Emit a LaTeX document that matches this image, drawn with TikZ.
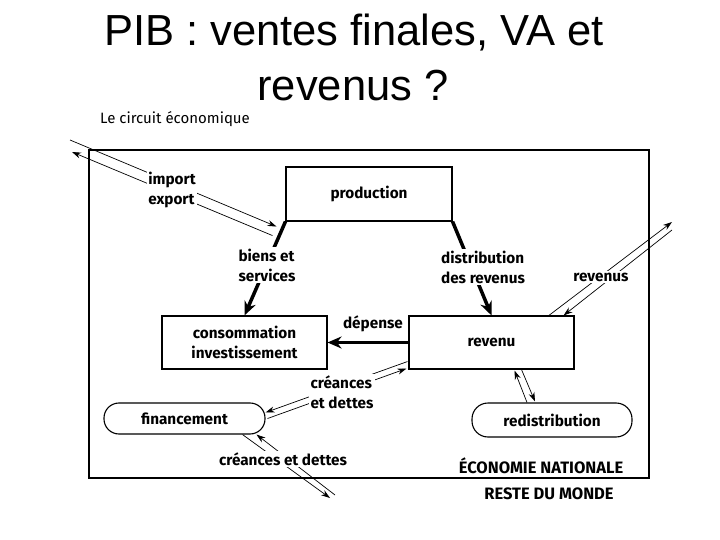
\documentclass[tikz,border=0pt]{standalone}
\usepackage{fontspec}
\setmainfont{Liberation Sans}
\newfontfamily\circfont{Fira Sans}
\usetikzlibrary{arrows.meta,calc}

\begin{document}
\begin{tikzpicture}[x=1pt, y=-1pt,
            box/.style={draw, line width=1.1pt, inner sep=0pt, font=\circfont\bfseries\fontsize{15.3}{20}\selectfont, align=center},
            lbl/.style={font=\circfont\bfseries\fontsize{15.3}{20}\selectfont, fill=white, inner sep=1.5pt},
            thinarr/.style={line width=0.7pt, -{Stealth[length=9pt,width=6pt]}},
            fatarr/.style={line width=3.5pt, -{Stealth[length=14pt,width=12pt]}}]
            \useasboundingbox (0,0) rectangle (720,540);
            % titre
            \node[font=\fontsize{43.5}{50}\selectfont, anchor=base] (titre1) at (354,46) {PIB : ventes finales, VA et};
            \node[font=\fontsize{43.5}{50}\selectfont, anchor=base] (titre2) at (353,101) {revenus ?};
            \node[font=\circfont\fontsize{15}{18}\selectfont, anchor=base west, inner sep=0pt] (soustitre) at (100,124) {Le circuit économique};
            % economie nationale
            \draw[line width=2.6pt] (89,150) rectangle (649,478);
            \node[box, minimum width=166pt, minimum height=54pt] (prod) at (369,194) {production};
            \node[box, minimum width=165pt, minimum height=53pt] (cons) at (244.5,342.5) {consommation\\investissement};
            \node[box, minimum width=165pt, minimum height=53pt] (rev) at (491.5,342.5) {revenu};
            \node[box, minimum width=161pt, minimum height=31pt, rounded corners=15pt] (fin) at (184.5,418.5) {financement};
            \node[box, minimum width=160pt, minimum height=34pt, rounded corners=16pt] (redis) at (552,420) {redistribution};
            % flux
            \coordinate (imp) at (70,140);
            \coordinate (exp) at (72,152);
            \coordinate (revout) at (672,222);
            \coordinate (revin) at (672,230);
            \coordinate (cdout) at (330,498);
            \coordinate (cdin) at (335,495);
            \draw[thinarr] (imp) -- ($(prod.south west)+(-9,5)$);
            \draw[thinarr] ($(prod.south west)+(-13,14)$) -- (exp);
            \draw[fatarr] (prod.south west) -- (cons.north);
            \draw[fatarr] (prod.south east) -- (rev.north);
            \draw[fatarr] (rev.west) -- (cons.east);
            \draw[thinarr] (revin) -- ($(rev.north east)+(-11,0)$);
            \draw[thinarr] ($(rev.north east)+(-27,1)$) -- (revout);
            \draw[thinarr] ($(redis.north)+(-25,0)$) -- ($(rev.south)+(23,1)$);
            \draw[thinarr] ($(rev.south)+(30,0)$) -- ($(redis.north)+(-17,-1)$);
            \draw[thinarr] ($(rev.south west)+(-1,-8)$) -- ($(fin.east)+(0,-6)$);
            \draw[thinarr] ($(fin.east)+(2,0)$) -- ($(rev.south west)+(-2,-1)$);
            \draw[thinarr] ($(fin.south)+(58,0)$) -- (cdout);
            \draw[thinarr] (cdin) -- ($(fin.south)+(72,0)$);
            % etiquettes
            \node[lbl, align=left] (impexp) at (172,190) {import\\export};
            \node[lbl, align=left] (biens) at (267,265) {biens et\\services};
            \node[lbl, align=left] (distrib) at (483,267) {distribution\\des revenus};
            \node[lbl] (revenus) at (601,277) {revenus};
            \node[lbl] (depense) at (373,324) {dépense};
            \node[lbl, align=left] (creances) at (342,392) {créances\\et dettes};
            \node[lbl] (creances2) at (283,459) {créances et dettes};
            \node[lbl, font=\circfont\bfseries\fontsize{16.5}{18}\selectfont] (econat) at (541,466) {ÉCONOMIE NATIONALE};
            \node[lbl, font=\circfont\bfseries\fontsize{16.5}{18}\selectfont] (reste) at (549,494) {RESTE DU MONDE};
        \end{tikzpicture}
\end{document}
